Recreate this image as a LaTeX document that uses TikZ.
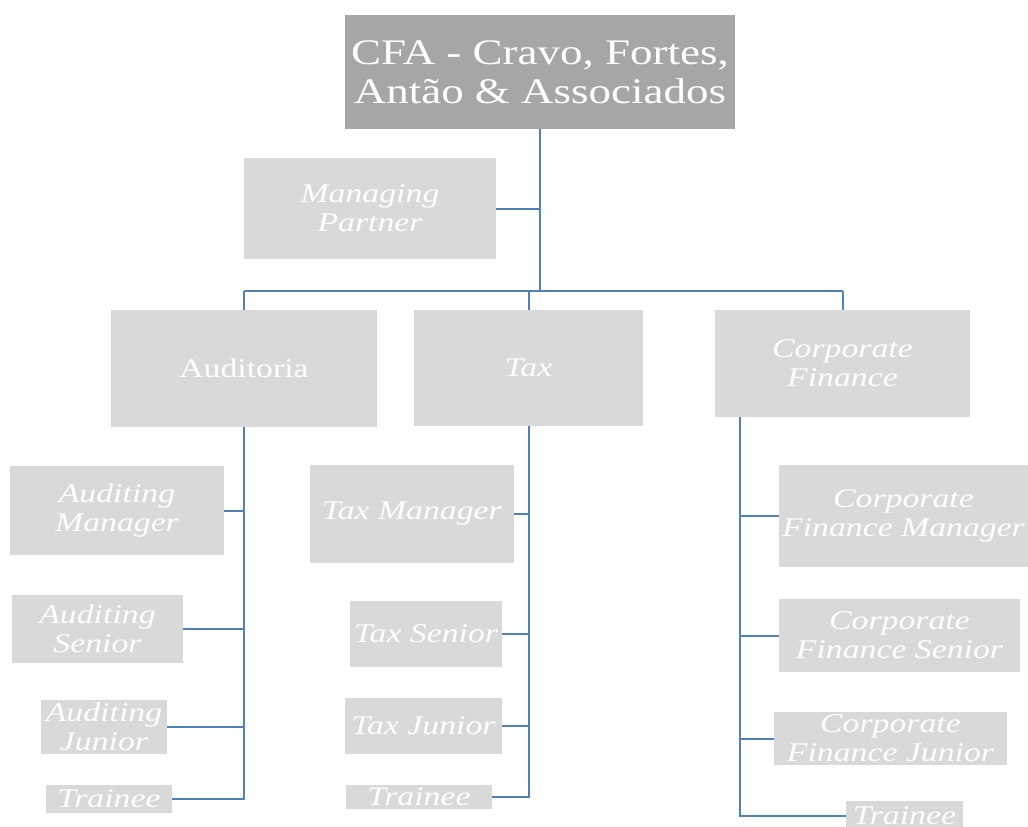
\documentclass[tikz,border=0pt]{standalone}
\usepackage{fontspec}
\newfontfamily\orgfont[FakeStretch=1.25]{Liberation Serif}
\usepackage{tikz}
\definecolor{headgray}{HTML}{A6A6A6}
\definecolor{boxgray}{HTML}{D9D9D9}
\definecolor{linkblue}{HTML}{4F81BD}
\tikzstyle{headbox}=[
      rectangle,
      inner sep = 0pt,
      fill = headgray,
      text = white,
      align = center,
      font = \orgfont\fontsize{36}{39}\selectfont
      ]
\tikzstyle{unitbox}=[
      rectangle,
      inner sep = 0pt,
      fill = boxgray,
      text = white,
      align = center,
      font = \orgfont\itshape\fontsize{27}{29}\selectfont
      ]
\tikzstyle{link}=[
      draw = linkblue,
      line width = 2pt
      ]

\begin{document}
\begin{tikzpicture}[x=1pt,y=-1pt]
\useasboundingbox (0,0) rectangle (1028,827);

% top of the chart
\node [headbox, minimum width=390pt, minimum height=114pt] (cfa) at (540,72)
  {CFA - Cravo, Fortes,\\Antão \& Associados};
\node [unitbox, minimum width=252pt, minimum height=101pt] (mp) at (370,208.5)
  {Managing\\Partner};

% departments
\node [unitbox, minimum width=266pt, minimum height=117pt,
       font=\orgfont\fontsize{27}{29}\selectfont] (aud) at (244,368.5) {Auditoria};
\node [unitbox, minimum width=229pt, minimum height=116pt] (tax) at (528.5,368) {Tax};
\node [unitbox, minimum width=255pt, minimum height=107pt] (cf) at (842.5,363.5)
  {Corporate\\Finance};

% auditing staff
\node [unitbox, minimum width=214pt, minimum height=89pt] (am) at (117,510.5) {Auditing\\Manager};
\node [unitbox, minimum width=171pt, minimum height=68pt] (as) at (97.5,629) {Auditing\\Senior};
\node [unitbox, minimum width=126pt, minimum height=54pt] (aj) at (104,727) {Auditing\\Junior};
\node [unitbox, minimum width=126pt, minimum height=28pt] (at) at (109,799) {Trainee};

% tax staff
\node [unitbox, minimum width=204pt, minimum height=98pt] (tm) at (412,514) {Tax Manager};
\node [unitbox, minimum width=152pt, minimum height=66pt] (ts) at (426,634) {Tax Senior};
\node [unitbox, minimum width=157pt, minimum height=56pt] (tj) at (423.5,726) {Tax Junior};
\node [unitbox, minimum width=146pt, minimum height=24pt] (tt) at (419,797) {Trainee};

% corporate finance staff
\node [unitbox, minimum width=249pt, minimum height=102pt] (cm) at (903.5,516)
  {Corporate\\Finance Manager};
\node [unitbox, minimum width=241pt, minimum height=73pt] (cs) at (899.5,635.5)
  {Corporate\\Finance Senior};
\node [unitbox, minimum width=233pt, minimum height=53pt] (cj) at (890.5,738.5)
  {Corporate\\Finance Junior};
\node [unitbox, minimum width=117pt, minimum height=30pt] (ct) at (904.5,816) {Trainee};

% connectors
\coordinate (hub) at (540,291);
\coordinate (cfspine) at (740,417);
\draw [link] (cfa.south) -- (hub);
\draw [link] (mp.east) -- (mp.east -| hub);
\draw [link] (aud.north |- hub) -- (cf.north |- hub);
\draw [link] (aud.north) -- (aud.north |- hub);
\draw [link] (tax.north) -- (tax.north |- hub);
\draw [link] (cf.north) -- (cf.north |- hub);

\draw [link] (aud.south) |- (at.east);
\draw [link] (am.east) -- (am.east -| aud.south);
\draw [link] (as.east) -- (as.east -| aud.south);
\draw [link] (aj.east) -- (aj.east -| aud.south);

\draw [link] (tax.south) |- (tt.east);
\draw [link] (tm.east) -- (tm.east -| tax.south);
\draw [link] (ts.east) -- (ts.east -| tax.south);
\draw [link] (tj.east) -- (tj.east -| tax.south);

\draw [link] (cfspine) |- (ct.west);
\draw [link] (cm.west) -- (cm.west -| cfspine);
\draw [link] (cs.west) -- (cs.west -| cfspine);
\draw [link] (cj.west) -- (cj.west -| cfspine);
\end{tikzpicture}
\end{document}
